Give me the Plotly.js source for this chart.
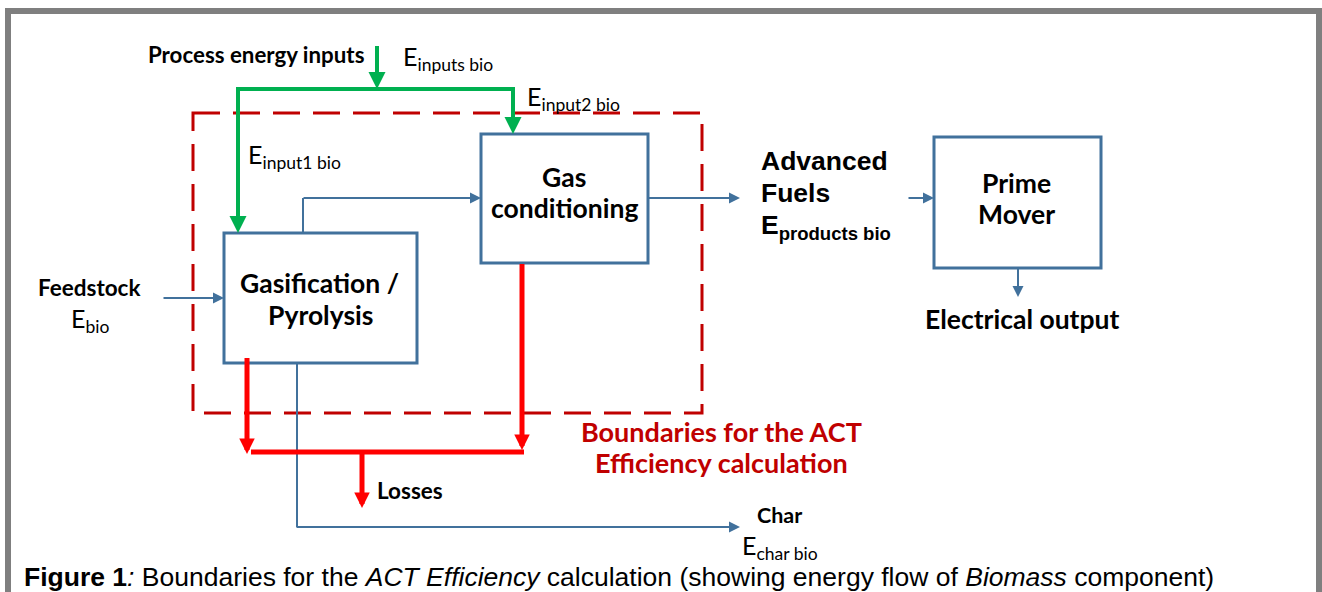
<!DOCTYPE html>
<html><head><meta charset="utf-8">
<script src="https://cdn.plot.ly/plotly-3.0.1.min.js"></script>
<style>html,body{margin:0;padding:0;background:#fff;overflow:hidden}#chart{width:1322px;height:592px}</style>
</head><body><div id="chart"></div>
<script>
// ---------- content (text of the diagram) ----------
const processNames  = ['Gasification /', 'Pyrolysis', 'Gas', 'conditioning', 'Prime', 'Mover'];
const flowNames     = ['Process energy inputs', 'Feedstock', 'Advanced', 'Fuels', 'Electrical output', 'Losses', 'Char'];
const energyTerms   = ['inputs bio', 'input2 bio', 'input1 bio', 'bio', 'products bio', 'char bio'];
const boundaryLabel = ['Boundaries for the ACT', 'Efficiency calculation'];
const captionParts  = ['Figure 1', ':', ' Boundaries for the ', 'ACT Efficiency', ' calculation (showing energy flow of ', 'Biomass', ' component)'];

// ---------- styles ----------
const BLUE = '#41719C', GREEN = '#00B050', RED = '#FF0000', DRED = '#C00000', GRAY = '#7F7F7F';
const CAL = 'Lato, "Open Sans", sans-serif';
const ARI = '"Liberation Sans", Arial, sans-serif';

const shapes = [];
const annotations = [];

function line(x0, y0, x1, y1, color, width, dash) {
  shapes.push({type: 'line', xref: 'x', yref: 'y', x0, y0, x1, y1,
    line: {color, width, dash: dash || 'solid'}});
}
function box(x0, y0, x1, y1, color, width, dash) {
  shapes.push({type: 'rect', xref: 'x', yref: 'y', x0, y0, x1, y1,
    fillcolor: 'rgba(0,0,0,0)', line: {color, width, dash: dash || 'solid'}});
}
function arrow(ax, ay, x, y, color, width, size) {
  annotations.push({xref: 'x', yref: 'y', axref: 'x', ayref: 'y', x, y, ax, ay,
    text: ' ', showarrow: true, arrowhead: 2, arrowsize: size, arrowwidth: width,
    arrowcolor: color, font: {size: 1}, borderpad: 0, standoff: 0, startstandoff: 0});
}
function txt(x, y, text, size, opts) {
  opts = opts || {};
  annotations.push({xref: 'x', yref: 'y', x, y, text, showarrow: false,
    xanchor: opts.anchor || 'left', yanchor: 'middle', align: opts.anchor === 'center' ? 'center' : 'left',
    font: {family: opts.family || CAL, size, color: opts.color || '#000'}});
}
const b = s => '<b>' + s + '</b>';
const E = s => 'E<sub>' + s + '</sub>';

// ---------- frame ----------
box(8, 11, 1319, 640, GRAY, 6);

// ---------- boundary ----------
box(193, 113, 702, 413, DRED, 3, '27px,13px');

// ---------- process boxes ----------
const boxes = [[224, 233, 417, 363], [481, 134, 648, 263], [934, 137, 1101, 268]];
boxes.forEach(r => {
  shapes.push({type: 'rect', xref: 'x', yref: 'y', x0: r[0], y0: r[1], x1: r[2], y1: r[3],
    fillcolor: '#fff', line: {color: BLUE, width: 3}, layer: 'above'});
});

// ---------- green process energy inputs ----------
line(236, 89, 515, 89, GREEN, 4);
arrow(377, 45, 377, 89, GREEN, 4, 0.85);
arrow(238, 89, 238, 233, GREEN, 4, 0.85);
arrow(513, 89, 513, 134, GREEN, 4, 0.85);

// ---------- blue flows ----------
const BA = 1.1;
arrow(163, 298, 224, 298, BLUE, 2, BA);
line(303, 233, 303, 198, BLUE, 2);
arrow(303, 198, 481, 198, BLUE, 2, BA);
arrow(648, 198, 740, 198, BLUE, 2, BA);
arrow(908, 198, 934, 198, BLUE, 2, BA);
arrow(1018, 268, 1018, 297, BLUE, 2, BA);
line(297, 363, 297, 527, BLUE, 2);
arrow(296, 527, 740, 527, BLUE, 2, BA);

// ---------- red losses ----------
arrow(247, 357, 247, 454, RED, 5, 0.62);
line(251, 452, 524, 452, RED, 5);
arrow(522, 263, 522, 450, RED, 5, 0.62);
arrow(362, 452, 362, 508, RED, 5, 0.62);

// ---------- texts ----------
txt(146, 54, b(flowNames[0]), 22.3);
txt(401, 58, E(energyTerms[0]), 25);
txt(525, 98, E(energyTerms[1]), 25);
txt(246, 156, E(energyTerms[2]), 25);

txt(564, 177, b(processNames[2]), 26.5, {anchor: 'center'});
txt(564, 208, b(processNames[3]), 26.5, {anchor: 'center'});
txt(319, 283, b(processNames[0]), 26.5, {anchor: 'center'});
txt(320, 315, b(processNames[1]), 26.5, {anchor: 'center'});
txt(1016, 183, b(processNames[4]), 26.5, {anchor: 'center'});
txt(1016, 214, b(processNames[5]), 26.5, {anchor: 'center'});

txt(36, 287, b(flowNames[1]), 22.5);
txt(69, 320, E(energyTerms[3]), 25);

txt(759, 161, b(flowNames[2]), 26.5, {family: ARI});
txt(759, 193, b(flowNames[3]), 26.5, {family: ARI});
txt(759, 227, b(E(energyTerms[4])), 26.5, {family: ARI});

txt(923, 319, b(flowNames[4]), 26.5);
txt(721, 431, b(boundaryLabel[0]), 27, {anchor: 'center', color: DRED});
txt(721, 462, b(boundaryLabel[1]), 27, {anchor: 'center', color: DRED});
txt(375, 490, b(flowNames[5]), 22.5);
txt(755, 515, b(flowNames[6]), 21.5);
txt(740, 547, E(energyTerms[5]), 25);

txt(22, 577, '<b>' + captionParts[0] + '</b><i>' + captionParts[1] + '</i>' + captionParts[2] +
  '<i>' + captionParts[3] + '</i>' + captionParts[4] + '<i>' + captionParts[5] + '</i>' + captionParts[6],
  26.5, {family: ARI});

const layout = {
  width: 1322, height: 592,
  margin: {l: 0, r: 0, t: 0, b: 0, pad: 0},
  paper_bgcolor: '#fff', plot_bgcolor: '#fff',
  xaxis: {range: [0, 1322], visible: false, fixedrange: true},
  yaxis: {range: [592, 0], visible: false, fixedrange: true},
  showlegend: false,
  shapes, annotations
};
Plotly.newPlot('chart', [{x: [0], y: [0], mode: 'markers', marker: {opacity: 0}, hoverinfo: 'skip'}], layout,
  {displayModeBar: false, staticPlot: true});
</script></body></html>
